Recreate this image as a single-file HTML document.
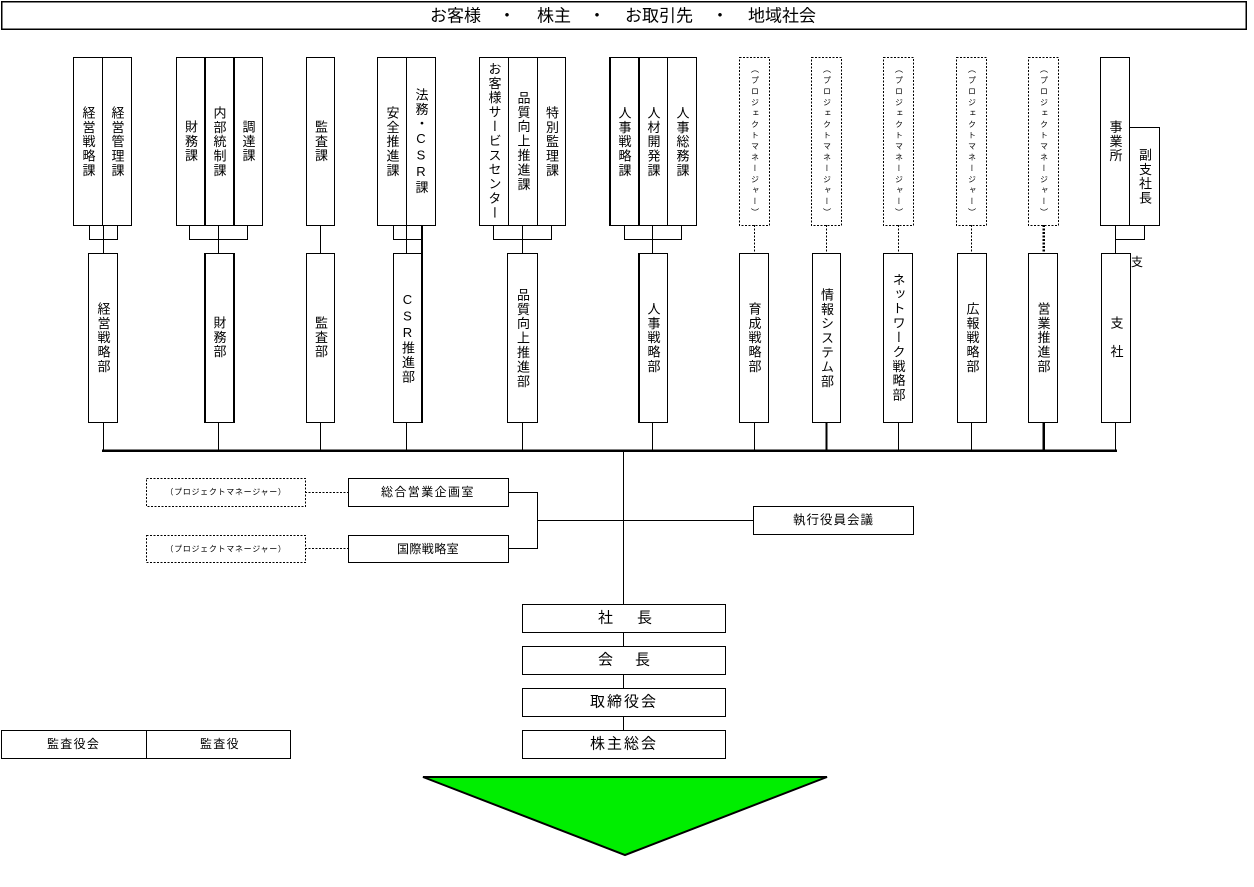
<!DOCTYPE html>
<html><head><meta charset="utf-8">
<style>
html,body{margin:0;padding:0;background:#fff;}
body{width:1254px;height:887px;position:relative;overflow:hidden;font-family:"Liberation Sans","Noto Sans CJK JP",sans-serif;color:#000;}
svg{position:absolute;left:0;top:0;}
.v{position:absolute;display:flex;align-items:center;justify-content:center;}
.v span{display:block;writing-mode:vertical-rl;text-orientation:upright;font-size:13px;letter-spacing:1.4px;line-height:1;font-family:"Liberation Sans","Noto Sans CJK JP",sans-serif;}
.v.pm span{font-size:8px;letter-spacing:3px;}
</style></head><body>
<svg width="1254" height="887" viewBox="0 0 1254 887" xmlns="http://www.w3.org/2000/svg">
<g fill="none" stroke="#000" stroke-width="1" shape-rendering="crispEdges">
<!-- banner -->
<rect x="1.5" y="1.5" width="1244.5" height="27.5" stroke-width="1.5"/>
<!-- upper boxes -->
<rect x="73.5" y="57.5" width="29" height="168"/>
<rect x="102.5" y="57.5" width="29" height="168"/>
<rect x="176.5" y="57.5" width="28" height="168"/>
<rect x="204.5" y="57.5" width="29" height="168"/>
<rect x="233.5" y="57.5" width="29" height="168"/>
<line x1="205" y1="57" x2="205" y2="226" stroke-width="2"/>
<line x1="234" y1="57" x2="234" y2="226" stroke-width="2"/>
<rect x="306.5" y="57.5" width="28" height="168"/>
<rect x="377.5" y="57.5" width="29" height="168"/>
<rect x="406.5" y="57.5" width="29" height="168"/>
<rect x="479.5" y="57.5" width="29" height="168"/>
<rect x="508.5" y="57.5" width="29" height="168"/>
<rect x="537.5" y="57.5" width="28" height="168"/>
<rect x="609.5" y="57.5" width="29" height="168"/>
<rect x="638.5" y="57.5" width="29" height="168"/>
<rect x="667.5" y="57.5" width="29" height="168"/>
<line x1="610" y1="57" x2="610" y2="226" stroke-width="2"/>
<line x1="639" y1="57" x2="639" y2="226" stroke-width="2"/>
<g stroke-dasharray="2,1.5">
<rect x="739.5" y="57.5" width="30" height="168"/>
<rect x="811.5" y="57.5" width="30" height="168"/>
<rect x="883.5" y="57.5" width="30" height="168"/>
<rect x="956.5" y="57.5" width="30" height="168"/>
<rect x="1028.5" y="57.5" width="30" height="168"/>
</g>
<rect x="1100.5" y="57.5" width="29" height="168"/>
<rect x="1129.5" y="127.5" width="30" height="98"/>
<!-- lower boxes -->
<rect x="88.5" y="253.5" width="29" height="169"/>
<rect x="204.5" y="253.5" width="29" height="169"/>
<line x1="205" y1="253" x2="205" y2="423" stroke-width="2"/>
<line x1="234" y1="253" x2="234" y2="423" stroke-width="2"/>
<rect x="306.5" y="253.5" width="28" height="169"/>
<rect x="393.5" y="253.5" width="28" height="169"/>
<line x1="422" y1="253" x2="422" y2="423" stroke-width="2"/>
<rect x="507.5" y="253.5" width="30" height="169"/>
<rect x="638.5" y="253.5" width="29" height="169"/>
<line x1="639" y1="253" x2="639" y2="423" stroke-width="2"/>
<rect x="739.5" y="253.5" width="29" height="169"/>
<rect x="812.5" y="253.5" width="28" height="169"/>
<rect x="883.5" y="253.5" width="29" height="169"/>
<rect x="957.5" y="253.5" width="29" height="169"/>
<rect x="1028.5" y="253.5" width="29" height="169"/>
<rect x="1101.5" y="253.5" width="29" height="169"/>
<!-- group connectors -->
<path d="M89.5 225V239.5H117.5V225M103.5 225V253"/>
<path d="M189.5 225V239.5H247.5V225M218.5 225V253"/>
<path d="M320.5 225V253"/>
<path d="M393.5 225V239.5H421.5M406.5 225V253"/>
<line x1="422" y1="225" x2="422" y2="253" stroke-width="2"/>
<path d="M493.5 225V239.5H551.5V225M522.5 225V253"/>
<path d="M624.5 225V239.5H681.5V225M652.5 225V253"/>
<g stroke-dasharray="2,1.5">
<path d="M754.5 225V253M826.5 225V253M898.5 225V253M971.5 225V253"/>
<line x1="1043.5" y1="225" x2="1043.5" y2="253" stroke-width="2.5"/>
</g>
<path d="M1115.5 225V253M1144.5 225V239.5H1115.5"/>
<!-- lower to bus -->
<path d="M103.5 422V450M218.5 422V450M320.5 422V450M406.5 422V450M522.5 422V450M652.5 422V450M754.5 422V450M898.5 422V450M971.5 422V450M1115.5 422V450"/>
<line x1="826.5" y1="422" x2="826.5" y2="450" stroke-width="2"/>
<line x1="1043.5" y1="422" x2="1043.5" y2="450" stroke-width="2.5"/>
<line x1="102" y1="450.5" x2="1117" y2="450.5" stroke-width="2.5"/>
<!-- trunk -->
<path d="M623.5 450V604"/>
<path d="M537.5 520.5H753"/>
<path d="M508 492.5H537.5V548.5H508"/>
<g stroke-dasharray="2,1.5">
<path d="M305 492.5H348M305 548.5H348"/>
<rect x="146.5" y="478.5" width="159" height="28"/>
<rect x="146.5" y="535.5" width="159" height="27"/>
</g>
<rect x="348.5" y="478.5" width="160" height="28"/>
<rect x="348.5" y="535.5" width="160" height="27"/>
<rect x="753.5" y="506.5" width="160" height="28"/>
<!-- stack -->
<rect x="522.5" y="604.5" width="203" height="28"/>
<rect x="522.5" y="646.5" width="203" height="28"/>
<rect x="522.5" y="688.5" width="203" height="28"/>
<rect x="522.5" y="730.5" width="203" height="28"/>
<path d="M623.5 632V646M623.5 674V688M623.5 716V730"/>
<!-- auditors -->
<rect x="1.5" y="730.5" width="145" height="28"/>
<rect x="146.5" y="730.5" width="144" height="28"/>
</g>
<polygon points="423,777 827,777 625,855" fill="#00ee00" stroke="#000" stroke-width="2"/>
<g font-family="Liberation Sans, Noto Sans CJK JP, sans-serif" fill="#000" dominant-baseline="central">
<text x="430" y="16" font-size="17">お客様</text>
<text x="507" y="16" font-size="17" text-anchor="middle">・</text>
<text x="537" y="16" font-size="17">株主</text>
<text x="597" y="16" font-size="17" text-anchor="middle">・</text>
<text x="625" y="16" font-size="17">お取引先</text>
<text x="720" y="16" font-size="17" text-anchor="middle">・</text>
<text x="748" y="16" font-size="17">地域社会</text>
<text x="226" y="492" font-size="8" letter-spacing="0.7" text-anchor="middle">（プロジェクトマネージャー）</text>
<text x="226" y="549" font-size="8" letter-spacing="0.7" text-anchor="middle">（プロジェクトマネージャー）</text>
<text x="381" y="492" font-size="12" letter-spacing="1.4">総合営業企画室</text>
<text x="397" y="549" font-size="12" letter-spacing="0.4">国際戦略室</text>
<text x="793" y="520" font-size="12.5" letter-spacing="1">執行役員会議</text>
<text x="598" y="618" font-size="15">社</text>
<text x="637" y="618" font-size="15">長</text>
<text x="598" y="660" font-size="15">会</text>
<text x="635" y="660" font-size="15">長</text>
<text x="590" y="702" font-size="15" letter-spacing="2">取締役会</text>
<text x="590" y="744" font-size="15" letter-spacing="2">株主総会</text>
<text x="47" y="744" font-size="12" letter-spacing="1.3">監査役会</text>
<text x="200" y="744" font-size="12" letter-spacing="1.3">監査役</text>
<text x="1131" y="262" font-size="12">支</text>
</g>
</svg>
<!-- upper vertical texts -->
<div class="v" style="left:74px;top:58px;width:28px;height:167px"><span>経営戦略課</span></div>
<div class="v" style="left:103px;top:58px;width:28px;height:167px"><span>経営管理課</span></div>
<div class="v" style="left:177px;top:58px;width:27px;height:167px"><span>財務課</span></div>
<div class="v" style="left:205px;top:58px;width:28px;height:167px"><span>内部統制課</span></div>
<div class="v" style="left:234px;top:58px;width:28px;height:167px"><span>調達課</span></div>
<div class="v" style="left:307px;top:58px;width:27px;height:167px"><span>監査課</span></div>
<div class="v" style="left:378px;top:58px;width:28px;height:167px"><span>安全推進課</span></div>
<div class="v" style="left:407px;top:58px;width:28px;height:167px"><span>法務・CSR課</span></div>
<div class="v" style="left:480px;top:58px;width:28px;height:167px"><span>お客様サービスセンター</span></div>
<div class="v" style="left:509px;top:58px;width:28px;height:167px"><span>品質向上推進課</span></div>
<div class="v" style="left:538px;top:58px;width:27px;height:167px"><span>特別監理課</span></div>
<div class="v" style="left:610px;top:58px;width:28px;height:167px"><span>人事戦略課</span></div>
<div class="v" style="left:639px;top:58px;width:28px;height:167px"><span>人材開発課</span></div>
<div class="v" style="left:668px;top:58px;width:28px;height:167px"><span>人事総務課</span></div>
<div class="v pm" style="left:740px;top:58px;width:29px;height:167px"><span>（プロジェクトマネージャー）</span></div>
<div class="v pm" style="left:812px;top:58px;width:29px;height:167px"><span>（プロジェクトマネージャー）</span></div>
<div class="v pm" style="left:884px;top:58px;width:29px;height:167px"><span>（プロジェクトマネージャー）</span></div>
<div class="v pm" style="left:957px;top:58px;width:29px;height:167px"><span>（プロジェクトマネージャー）</span></div>
<div class="v pm" style="left:1029px;top:58px;width:29px;height:167px"><span>（プロジェクトマネージャー）</span></div>
<div class="v" style="left:1101px;top:58px;width:28px;height:167px"><span>事業所</span></div>
<div class="v" style="left:1130px;top:128px;width:29px;height:97px"><span>副支社長</span></div>
<!-- lower vertical texts -->
<div class="v" style="left:89px;top:254px;width:28px;height:168px"><span>経営戦略部</span></div>
<div class="v" style="left:205px;top:254px;width:28px;height:168px"><span>財務部</span></div>
<div class="v" style="left:307px;top:254px;width:27px;height:168px"><span>監査部</span></div>
<div class="v" style="left:394px;top:254px;width:27px;height:168px"><span>CSR推進部</span></div>
<div class="v" style="left:508px;top:254px;width:29px;height:168px"><span>品質向上推進部</span></div>
<div class="v" style="left:639px;top:254px;width:28px;height:168px"><span>人事戦略部</span></div>
<div class="v" style="left:740px;top:254px;width:28px;height:168px"><span>育成戦略部</span></div>
<div class="v" style="left:813px;top:254px;width:27px;height:168px"><span>情報システム部</span></div>
<div class="v" style="left:884px;top:254px;width:28px;height:168px"><span>ネットワーク戦略部</span></div>
<div class="v" style="left:958px;top:254px;width:28px;height:168px"><span>広報戦略部</span></div>
<div class="v" style="left:1029px;top:254px;width:28px;height:168px"><span>営業推進部</span></div>
<div class="v" style="left:1102px;top:254px;width:28px;height:168px"><span>支　社</span></div>
</body></html>
